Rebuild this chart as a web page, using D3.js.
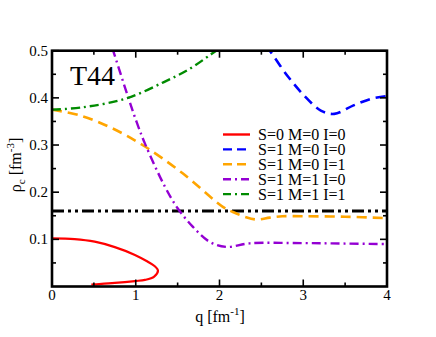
<!DOCTYPE html>
<html>
<head>
<meta charset="utf-8">
<script src="https://cdn.jsdelivr.net/npm/d3@7"></script>
<style>
html,body{margin:0;padding:0;background:#fff;}
svg{display:block;}
svg text{font-family:"Liberation Serif","Times New Roman",Times,"Nimbus Roman","Noto Serif","DejaVu Serif",serif;}
</style>
</head>
<body>
<svg id="chart" width="436" height="337"></svg>
<script>
// ---- data ----
const xTicks = [0, 1, 2, 3, 4];
const yTicks = [0.1, 0.2, 0.3, 0.4, 0.5];
const xMinor = [0.5, 1.5, 2.5, 3.5];
const yMinor = [0.05, 0.15, 0.25, 0.35, 0.45];

const seriesNames = ["S=0 M=0 I=0", "S=1 M=0 I=0", "S=1 M=0 I=1", "S=1 M=1 I=0", "S=1 M=1 I=1"];

const redQ   = [0, 0.27, 0.51, 0.75, 0.99, 1.14, 1.22, 1.265, 1.22, 1.11, 0.99, 0.75, 0.51, 0.47];
const redRho = [0.102, 0.1005, 0.095, 0.0835, 0.067, 0.053, 0.044, 0.034, 0.021, 0.014, 0.0115, 0.0075, 0.0045, 0.004];

const blueQ   = [2.55, 2.6, 2.81, 3.01, 3.21, 3.37, 3.6, 3.81, 4.0];
const blueRho = [0.51, 0.5, 0.447, 0.405, 0.373, 0.366, 0.384, 0.398, 0.404];

const orangeQ   = [0, 0.33, 0.69, 1.09, 1.56, 2.04, 2.16, 2.3, 2.44, 2.6, 2.75, 3.0, 3.5, 4.0];
const orangeRho = [0.375, 0.363, 0.338, 0.299, 0.240, 0.169, 0.158, 0.148, 0.142, 0.146, 0.149, 0.149, 0.148, 0.145];

const purpleQ   = [0.72, 0.73, 0.91, 1.01, 1.11, 1.35, 1.50, 1.68, 1.88, 2.08, 2.36, 3.0, 3.5, 4.0];
const purpleRho = [0.505, 0.5, 0.401, 0.349, 0.303, 0.211, 0.166, 0.127, 0.095, 0.084, 0.0915, 0.092, 0.091, 0.090];

const greenQ   = [0, 0.37, 0.89, 1.33, 1.64, 1.88, 1.96];
const greenRho = [0.375, 0.380, 0.399, 0.433, 0.461, 0.49, 0.5];

const refQ   = [0, 4];
const refRho = [0.16, 0.16];

// ---- layout ----
const svg = d3.select("#chart");
const L = 52, R = 387, T = 50.7, B = 286.5;
const x = d3.scaleLinear().domain([0, 4]).range([L, R]);
const y = d3.scaleLinear().domain([0, 0.5]).range([B, T]);

svg.append("defs").append("clipPath").attr("id", "clip")
  .append("rect").attr("x", L).attr("y", T).attr("width", R - L).attr("height", B - T);

const zip = (a, b) => a.map((v, i) => [v, b[i]]);
const line = d3.line().x(d => x(d[0])).y(d => y(d[1])).curve(d3.curveCatmullRom.alpha(0.5));

const styles = [
  {color: "#ff0000", dash: null, w: 2.2},
  {color: "#0000ff", dash: "10,6", w: 2.6},
  {color: "#ffa500", dash: "10,6", w: 2.6},
  {color: "#9400d3", dash: "9,4,2,4", w: 2.4},
  {color: "#008b00", dash: "9,4,2,4", w: 2.4}
];
const data = [zip(redQ, redRho), zip(blueQ, blueRho), zip(orangeQ, orangeRho), zip(purpleQ, purpleRho), zip(greenQ, greenRho)];

const plot = svg.append("g").attr("clip-path", "url(#clip)");
plot.append("path").datum(zip(refQ, refRho))
  .attr("d", d3.line().x(d => x(d[0])).y(d => y(d[1])))
  .attr("fill", "none").attr("stroke", "#000").attr("stroke-width", 3)
  .attr("stroke-dasharray", "12,4,3,4,3,4");

data.forEach((d, i) => {
  plot.append("path").datum(d).attr("d", line)
    .attr("fill", "none").attr("stroke", styles[i].color)
    .attr("stroke-width", styles[i].w)
    .attr("stroke-dasharray", styles[i].dash);
});

// ---- axes (ticks inward, all four sides) ----
const axG = svg.append("g");
const tickLine = (x1, y1, x2, y2) => axG.append("line").attr("x1", x1).attr("y1", y1).attr("x2", x2).attr("y2", y2)
  .attr("stroke", "#000").attr("stroke-width", 1.6);
const MAJ = 7, MIN = 4;
xTicks.forEach(t => { tickLine(x(t), B, x(t), B - MAJ); tickLine(x(t), T, x(t), T + MAJ); });
xMinor.forEach(t => { tickLine(x(t), B, x(t), B - MIN); tickLine(x(t), T, x(t), T + MIN); });
yTicks.forEach(t => { tickLine(L, y(t), L + MAJ, y(t)); tickLine(R, y(t), R - MAJ, y(t)); });
yMinor.forEach(t => { tickLine(L, y(t), L + MIN, y(t)); tickLine(R, y(t), R - MIN, y(t)); });

axG.append("rect").attr("x", L).attr("y", T).attr("width", R - L).attr("height", B - T)
  .attr("fill", "none").attr("stroke", "#000").attr("stroke-width", 2.6);

// tick labels
svg.append("g").selectAll("text").data(xTicks).join("text")
  .attr("x", d => x(d)).attr("y", 300).attr("text-anchor", "middle")
  .attr("font-size", 15).text(d => d3.format("d")(d));
svg.append("g").selectAll("text").data(yTicks).join("text")
  .attr("x", 48).attr("y", d => y(d) + 5).attr("text-anchor", "end")
  .attr("font-size", 15).text(d => d3.format(".1f")(d));

// axis titles
const xt = svg.append("text").attr("x", 220).attr("y", 322).attr("text-anchor", "middle").attr("font-size", 16);
xt.append("tspan").text("q [fm");
xt.append("tspan").attr("font-size", 11).attr("dy", -7).text("-1");
xt.append("tspan").attr("dy", 7).text("]");

const yt = svg.append("text").attr("transform", "translate(21,165) rotate(-90)").attr("text-anchor", "middle").attr("font-size", 16);
yt.append("tspan").text("ρ");
yt.append("tspan").attr("font-size", 11).attr("dy", 4).text("c");
yt.append("tspan").attr("dy", -4).text(" [fm");
yt.append("tspan").attr("font-size", 11).attr("dy", -7).text("-3");
yt.append("tspan").attr("dy", 7).text("]");

// T44 label
svg.append("text").attr("x", 70).attr("y", 85).attr("font-size", 28).text("T44");

// legend
const lg = svg.append("g");
seriesNames.forEach((name, i) => {
  const by = 140 + i * 14.9;
  lg.append("line").attr("x1", 223).attr("x2", 250).attr("y1", by - 5.5).attr("y2", by - 5.5)
    .attr("stroke", styles[i].color).attr("stroke-width", 2.4)
    .attr("stroke-dasharray", styles[i].dash ? (i < 3 ? "9,5" : "8,4,2,4") : null);
  lg.append("text").attr("x", 258).attr("y", by).attr("font-size", 16).text(name);
});
</script>
</body>
</html>
